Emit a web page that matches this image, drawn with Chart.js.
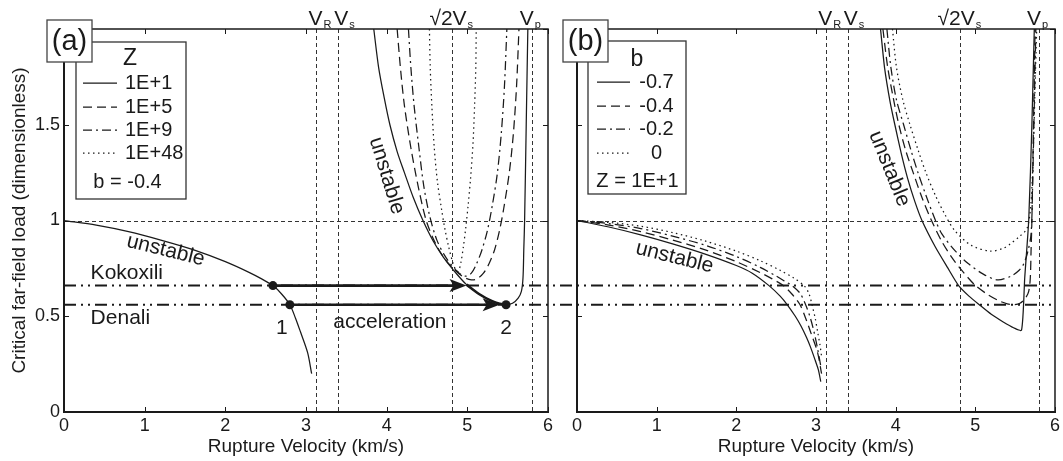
<!DOCTYPE html>
<html><head><meta charset="utf-8">
<script src="https://cdn.jsdelivr.net/npm/chart.js@4.4.1/dist/chart.umd.min.js"></script>
<style>
html,body{margin:0;padding:0;background:#fff;width:1063px;height:461px;overflow:hidden}
#wa{position:absolute;left:0;top:0;width:560px;height:461px}
#wb{position:absolute;left:560px;top:0;width:503px;height:461px}
</style></head><body>
<div id="wa"><canvas id="ca"></canvas></div>
<div id="wb"><canvas id="cb"></canvas></div>
<script>
// ---------- data ----------
const xTicks = [0,1,2,3,4,5,6];
const xTickLabels = ['0','1','2','3','4','5','6'];
const yTicks = [0,0.5,1,1.5,2];
const yTickLabels = ['0','0.5','1','1.5',''];
const xTitle = 'Rupture Velocity (km/s)';
const yTitle = 'Critical far-field load (dimensionless)';
const refVel = [3.13, 3.40, 4.81, 5.80];
const refMain = ['V','V','\u221A2V','V'];
const refSub = ['R','s','s','p'];
const unitLoad = [1];
const eqNames = ['Kokoxili','Denali'];
const eqLoad = [0.66, 0.56];
const pointVel = [2.59, 2.80, 5.48];
const pointLoad = [0.66, 0.56, 0.56];
const pointLabels = ['', '1', '2'];
const arrowFrom = [2.59, 2.80];
const arrowTo = [4.99, 5.40];
const accelText = 'acceleration';
const unstableText = 'unstable';
const panelTags = ['(a)','(b)'];
const legendATitle = 'Z';
const legendALabels = ['1E+1','1E+5','1E+9','1E+48'];
const legendANote = 'b = -0.4';
const legendBTitle = 'b';
const legendBLabels = ['-0.7','-0.4','-0.2','0'];
const legendBNote = 'Z = 1E+1';

// b = -0.4, Z = 1E+1 (solid in a, dashed in b)
const b04Left = [[0,1.0],[0.4,0.976],[0.8,0.942],[1.2,0.898],[1.6,0.848],[2.0,0.785],[2.3,0.728],[2.45,0.695],[2.59,0.66],[2.7,0.615],[2.8,0.56],[2.87,0.49],[2.93,0.42],[3.02,0.31],[3.07,0.20]];
const b04Right = [[3.84,2.0],[3.9,1.8],[3.97,1.64],[4.04,1.5],[4.13,1.36],[4.22,1.25],[4.33,1.12],[4.45,1.0],[4.58,0.89],[4.7,0.81],[4.82,0.745],[4.99,0.665],[5.15,0.615],[5.3,0.58],[5.4,0.565],[5.48,0.56],[5.56,0.568],[5.63,0.595],[5.67,0.63],[5.69,0.7],[5.70,0.85],[5.71,1.0],[5.73,1.5],[5.75,2.0]];
// panel a: Z = 1E+5, 1E+9, 1E+48
const aZ5 = [[4.13,2.0],[4.17,1.8],[4.22,1.6],[4.3,1.38],[4.39,1.18],[4.49,1.0],[4.6,0.885],[4.72,0.8],[4.85,0.74],[4.95,0.705],[5.05,0.69],[5.12,0.695],[5.2,0.725],[5.27,0.775],[5.34,0.85],[5.40,0.95],[5.45,1.06],[5.52,1.25],[5.57,1.45],[5.61,1.7],[5.64,2.0]];
const aZ9 = [[4.27,2.0],[4.3,1.8],[4.34,1.6],[4.4,1.38],[4.46,1.18],[4.53,1.03],[4.62,0.9],[4.73,0.81],[4.85,0.745],[4.93,0.715],[4.99,0.71],[5.05,0.725],[5.11,0.77],[5.18,0.845],[5.25,0.95],[5.31,1.08],[5.37,1.24],[5.42,1.45],[5.46,1.7],[5.49,2.0]];
const aZ48 = [[4.53,2.0],[4.54,1.8],[4.56,1.6],[4.59,1.38],[4.63,1.2],[4.68,1.06],[4.72,0.96],[4.77,0.86],[4.82,0.78],[4.86,0.74],[4.89,0.735],[4.92,0.78],[4.95,0.86],[4.98,0.96],[5.01,1.08],[5.04,1.22],[5.07,1.4],[5.09,1.6],[5.105,1.8],[5.11,2.0]];
// panel b: b = -0.7, -0.2, 0 (Z = 1E+1)
const b07Left = [[0,1.0],[0.4,0.966],[0.8,0.925],[1.2,0.878],[1.6,0.826],[2.0,0.765],[2.2,0.725],[2.41,0.66],[2.55,0.605],[2.64,0.56],[2.74,0.5],[2.81,0.45],[2.88,0.39],[2.93,0.34],[2.99,0.27],[3.03,0.22],[3.06,0.158]];
const b07Right = [[3.81,2.0],[3.86,1.8],[3.93,1.62],[3.99,1.5],[4.07,1.35],[4.15,1.22],[4.24,1.1],[4.33,1.0],[4.5,0.86],[4.65,0.755],[4.79,0.66],[4.92,0.605],[5.05,0.56],[5.2,0.51],[5.35,0.47],[5.48,0.44],[5.58,0.427],[5.62,0.7],[5.67,1.0],[5.71,1.5],[5.74,2.0]];
const b02Left = [[0,1.0],[0.4,0.984],[0.8,0.958],[1.2,0.918],[1.6,0.872],[2.0,0.812],[2.3,0.755],[2.5,0.71],[2.62,0.68],[2.70,0.66],[2.8,0.62],[2.87,0.56],[2.93,0.49],[2.98,0.41],[3.02,0.33],[3.06,0.24]];
const b0Left = [[0,1.0],[0.4,0.99],[0.8,0.97],[1.2,0.937],[1.6,0.894],[2.0,0.84],[2.3,0.79],[2.55,0.74],[2.72,0.70],[2.85,0.66],[2.91,0.62],[2.95,0.56],[2.99,0.49],[3.02,0.42],[3.05,0.35],[3.07,0.29]];
const b02Right = [[3.89,2.0],[3.94,1.8],[4.01,1.63],[4.1,1.5],[4.19,1.37],[4.28,1.25],[4.39,1.12],[4.5,1.0],[4.58,0.93],[4.75,0.84],[4.91,0.775],[5.1,0.72],[5.28,0.69],[5.45,0.71],[5.55,0.74],[5.61,0.775],[5.66,0.84],[5.70,0.93],[5.72,1.2],[5.74,1.6],[5.76,2.0]];
const b0Right = [[3.96,2.0],[4.01,1.8],[4.09,1.63],[4.18,1.5],[4.28,1.37],[4.38,1.25],[4.5,1.13],[4.62,1.03],[4.74,0.948],[4.95,0.87],[5.19,0.84],[5.35,0.855],[5.44,0.878],[5.55,0.915],[5.65,0.96],[5.70,1.1],[5.73,1.4],[5.75,1.7],[5.77,2.0]];

// ---------- style ----------
const FONT = "'Liberation Sans', Arial, Helvetica, sans-serif";
const INK = '#1a1a1a';
const DASH = {solid:[], dashed:[9,5], dashdot:[9,4,2,4], dotted:[1.5,3.5]};
Chart.defaults.font.family = FONT;
Chart.defaults.color = INK;

function ds(pts, dash, w, tension){
  return {data: pts.map(p=>({x:p[0], y:p[1]})), showLine:true, borderColor:INK, borderWidth:w||1.25,
    borderDash:dash, pointRadius:0, pointHoverRadius:0, tension:(tension==null?0.3:tension), fill:false};
}
function line(ctx,x0,y0,x1,y1){ctx.beginPath();ctx.moveTo(x0,y0);ctx.lineTo(x1,y1);ctx.stroke();}
function txt(ctx,s,x,y,size,align,rot,base){
  ctx.save();ctx.translate(x,y);ctx.rotate((rot||0)*Math.PI/180);
  ctx.font=size+'px '+FONT;ctx.fillStyle=INK;ctx.textAlign=align||'left';ctx.textBaseline=base||'middle';
  ctx.fillText(s,0,0);ctx.restore();
}

const decoPlugin = {
  id:'deco',
  beforeDraw(c){const ctx=c.ctx;ctx.save();ctx.fillStyle='#fff';ctx.fillRect(0,0,c.width,c.height);ctx.restore();},
  beforeDatasetsDraw(c){
    const o=c.options.plugins.deco, ctx=c.ctx, xs=c.scales.x, ys=c.scales.y, A=c.chartArea;
    ctx.save();
    ctx.strokeStyle='#333';ctx.lineWidth=1;ctx.setLineDash([4,3]);
    refVel.forEach(v=>{const px=Math.round(xs.getPixelForValue(v))+0.5;line(ctx,px,A.top,px,A.bottom);});
    unitLoad.forEach(v=>{const py=Math.round(ys.getPixelForValue(v))+0.5;line(ctx,A.left,py,A.right,py);});
    ctx.strokeStyle=INK;ctx.lineWidth=2;ctx.setLineDash([12,5,2,5,2,5]);
    eqLoad.forEach(v=>{const py=ys.getPixelForValue(v);line(ctx,o.eqLeft==='canvas'?0:A.left,py,o.eqRight==='canvas'?c.width:A.right,py);});
    ctx.restore();
  },
  afterDatasetsDraw(c){
    const o=c.options.plugins.deco, ctx=c.ctx, xs=c.scales.x, ys=c.scales.y, A=c.chartArea;
    ctx.save();ctx.setLineDash([]);
    if(o.arrows){
      ctx.fillStyle=INK;
      arrowTo.forEach((v,i)=>{const px=xs.getPixelForValue(v), py=ys.getPixelForValue(eqLoad[i]);
        ctx.beginPath();ctx.moveTo(px,py);ctx.lineTo(px-17,py-6.5);ctx.lineTo(px-13,py);ctx.lineTo(px-17,py+6.5);ctx.closePath();ctx.fill();});
    }
    ctx.strokeStyle=INK;ctx.lineWidth=1.5;ctx.strokeRect(A.left,A.top,A.right-A.left,A.bottom-A.top);
    ctx.lineWidth=2;line(ctx,A.left,A.top,A.left,A.bottom+1);line(ctx,A.left-1,A.bottom,A.right+1,A.bottom);
    ctx.lineWidth=1;
    xTicks.forEach(v=>{const px=Math.round(xs.getPixelForValue(v))+0.5;line(ctx,px,A.bottom,px,A.bottom-5);line(ctx,px,A.top,px,A.top+5);});
    yTicks.forEach(v=>{const py=Math.round(ys.getPixelForValue(v))+0.5;line(ctx,A.left,py,A.left+5,py);line(ctx,A.right,py,A.right-5,py);});
    const dxs=[-1,3,-4,-5];
    refVel.forEach((v,i)=>{const px=xs.getPixelForValue(v)+dxs[i];
      ctx.font='21px '+FONT;const w=ctx.measureText(refMain[i]).width;
      txt(ctx,refMain[i],px,25,21,'center',0,'alphabetic');
      txt(ctx,refSub[i],px+w/2+1,28,11,'left',0,'alphabetic');});
    (o.texts||[]).forEach(t=>{txt(ctx,t.s,xs.getPixelForValue(t.x)+(t.dx||0),ys.getPixelForValue(t.y)+(t.dy||0),t.size||21,t.align||'center',t.rot||0);});
    const L=o.legend;
    ctx.fillStyle='#fff';ctx.strokeStyle='#333';ctx.lineWidth=1.3;
    ctx.fillRect(L.box[0],L.box[1],L.box[2]-L.box[0],L.box[3]-L.box[1]);
    ctx.strokeRect(L.box[0],L.box[1],L.box[2]-L.box[0],L.box[3]-L.box[1]);
    txt(ctx,L.title,L.titleX,L.titleY,23,'center');
    L.labels.forEach((s,i)=>{ctx.strokeStyle=INK;ctx.lineWidth=1.25;ctx.setLineDash(L.dashes[i]);
      line(ctx,L.lineX[0],L.rowY[i],L.lineX[1],L.rowY[i]);ctx.setLineDash([]);
      txt(ctx,s,L.textX,L.rowY[i],20,L.align);});
    txt(ctx,L.note,L.noteX,L.noteY,20,'center');
    const T=o.tag;
    ctx.fillStyle='#fff';ctx.strokeStyle='#444';ctx.lineWidth=1.3;
    ctx.fillRect(T.box[0],T.box[1],T.box[2]-T.box[0],T.box[3]-T.box[1]);
    ctx.strokeRect(T.box[0],T.box[1],T.box[2]-T.box[0],T.box[3]-T.box[1]);
    txt(ctx,T.s,(T.box[0]+T.box[2])/2,(T.box[1]+T.box[3])/2+1,29,'center');
    ctx.restore();
  }
};

function scales(yw, showY){
  return {
    x:{type:'linear',min:0,max:6,
      afterBuildTicks:s=>{s.ticks=xTicks.map(v=>({value:v}));},
      afterFit:s=>{s.height=49;},
      grid:{display:false,drawTicks:false},border:{display:false},
      ticks:{font:{size:18},padding:3,color:INK,maxRotation:0,autoSkip:false,callback:(v,i)=>xTickLabels[i]},
      title:{display:true,text:xTitle,font:{size:19},color:INK,padding:{top:0,bottom:3}}},
    y:{type:'linear',min:0,max:2,
      afterBuildTicks:s=>{s.ticks=yTicks.map(v=>({value:v}));},
      afterFit:s=>{s.width=yw;},
      grid:{display:false,drawTicks:false},border:{display:false},
      ticks:{display:showY,font:{size:18},padding:4,color:INK,autoSkip:false,callback:(v,i)=>yTickLabels[i]},
      title:{display:showY,text:yTitle,font:{size:19},color:INK,padding:{top:8,bottom:0}}}
  };
}
function base(datasets, pad, yw, showY, decoOpts){
  return {type:'scatter', data:{datasets},
    options:{responsive:true,maintainAspectRatio:false,animation:false,devicePixelRatio:1,
      layout:{padding:pad}, scales:scales(yw,showY),
      plugins:{legend:{display:false},tooltip:{enabled:false},deco:decoOpts}},
    plugins:[decoPlugin]};
}

// ---------- panel a ----------
const thickSeg = b04Right.filter(p=>p[0]>=arrowTo[0] && p[0]<=pointVel[2]);
const dsA = [
  ds(b04Left, DASH.solid), ds(b04Right, DASH.solid),
  ds(aZ5, DASH.dashed), ds(aZ9, DASH.dashdot), ds(aZ48, DASH.dotted),
  ds(thickSeg, DASH.solid, 2.6),
  ds([[arrowFrom[0],eqLoad[0]],[arrowTo[0]-0.1,eqLoad[0]]], DASH.solid, 2.6, 0),
  ds([[arrowFrom[1],eqLoad[1]],[arrowTo[1]-0.1,eqLoad[1]]], DASH.solid, 2.6, 0),
  {data:pointVel.map((v,i)=>({x:v,y:pointLoad[i]})),showLine:false,pointRadius:4.5,pointBackgroundColor:INK,pointBorderColor:INK,pointBorderWidth:0}
];
const cfgA = base(dsA,{left:0,right:12,top:29,bottom:0},64,true,{
  eqLeft:'area', eqRight:'canvas', arrows:true,
  texts:[
    {s:eqNames[0],x:0.33,y:eqLoad[0],dy:-12,align:'left'},
    {s:eqNames[1],x:0.33,y:eqLoad[1],dy:13,align:'left'},
    {s:pointLabels[1],x:pointVel[1],y:pointLoad[1],dx:-8,dy:23},
    {s:pointLabels[2],x:pointVel[2],y:pointLoad[2],dx:0,dy:23},
    {s:accelText,x:4.04,y:eqLoad[1],dy:17},
    {s:unstableText,x:1.26,y:0.844,rot:14},
    {s:unstableText,x:4.0,y:1.234,rot:73}
  ],
  legend:{box:[76,42,186,199],title:legendATitle,titleX:130,titleY:59,labels:legendALabels,
    dashes:[DASH.solid,DASH.dashed,DASH.dashdot,DASH.dotted],rowY:[83,107,130,153],lineX:[83,117],textX:125,align:'left',
    note:legendANote,noteX:127.5,noteY:182},
  tag:{box:[47,20,92,62],s:panelTags[0]}
});
new Chart(document.getElementById('ca'), cfgA);

// ---------- panel b ----------
const dsB = [
  ds(b07Left, DASH.solid), ds(b07Right, DASH.solid, 1.25, 0.2),
  ds(b04Left, DASH.dashed), ds(b04Right, DASH.dashed),
  ds(b02Left, DASH.dashdot), ds(b02Right, DASH.dashdot),
  ds(b0Left, DASH.dotted), ds(b0Right, DASH.dotted)
];
const cfgB = base(dsB,{left:0,right:1,top:29,bottom:0},17,false,{
  eqLeft:'canvas', eqRight:'area', arrows:false,
  texts:[
    {s:unstableText,x:1.225,y:0.807,rot:14},
    {s:unstableText,x:3.92,y:1.27,rot:68}
  ],
  legend:{box:[28,41,126,194],title:legendBTitle,titleX:77,titleY:60,labels:legendBLabels,
    dashes:[DASH.solid,DASH.dashed,DASH.dashdot,DASH.dotted],rowY:[82,106,129,153],lineX:[37,70],textX:96.5,align:'center',
    note:legendBNote,noteX:77.5,noteY:181},
  tag:{box:[3,20,48,62],s:panelTags[1]}
});
new Chart(document.getElementById('cb'), cfgB);
</script>
</body></html>
